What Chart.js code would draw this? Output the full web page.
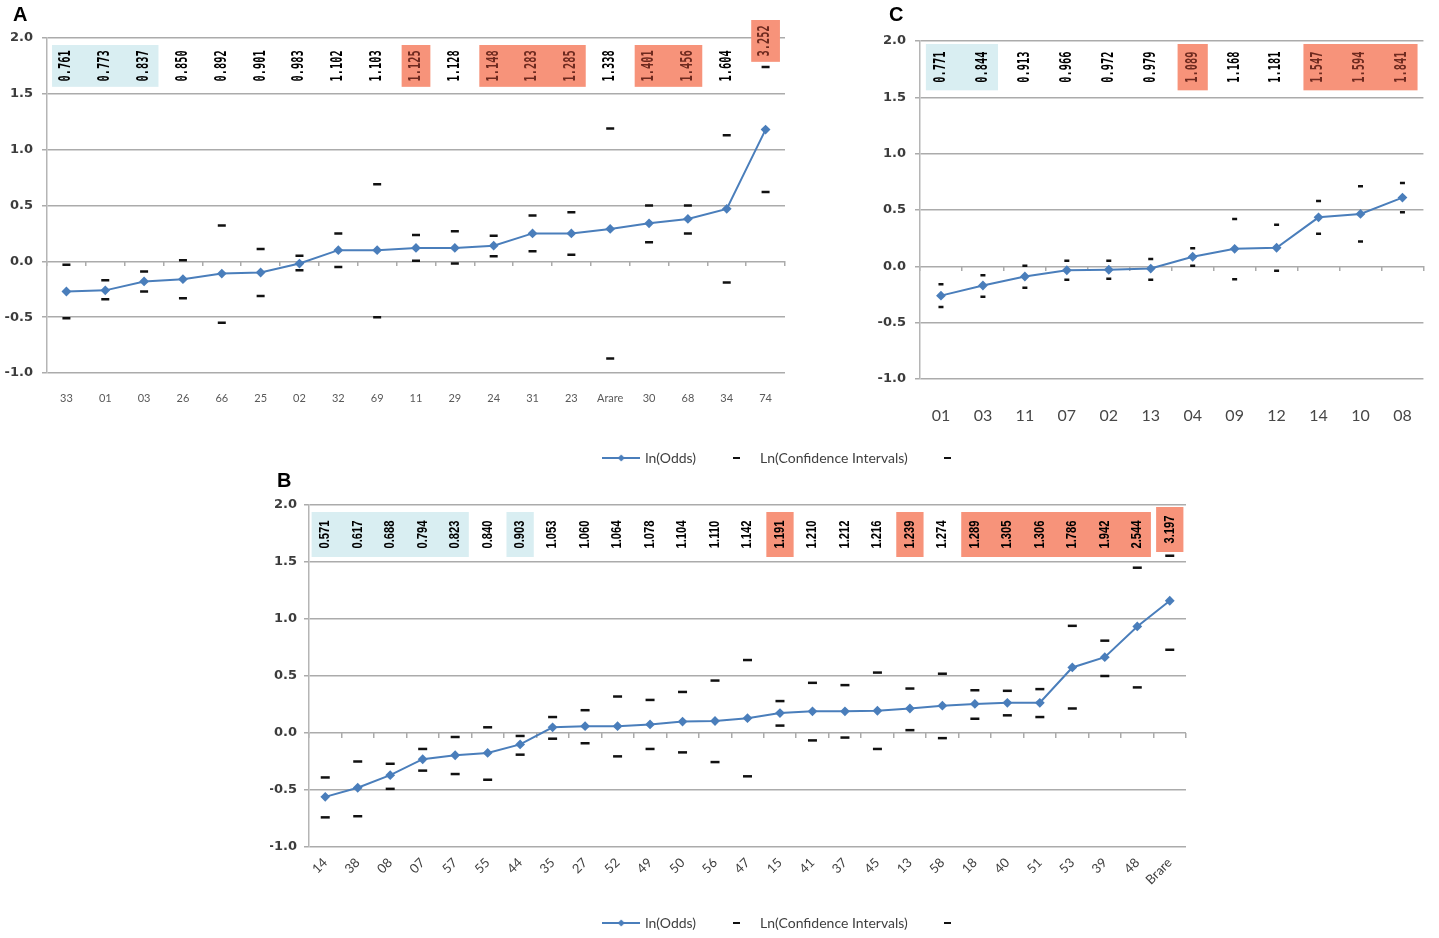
<!DOCTYPE html>
<html>
<head>
<meta charset="utf-8">
<title>ln(Odds) by category</title>
<script src="https://cdn.jsdelivr.net/npm/chart.js@4"></script>
<style>
  body { margin: 0; background: #fff; }
  #page { position: relative; width: 1439px; height: 938px; overflow: hidden; }
  canvas { position: absolute; }
</style>
</head>
<body>
<div id="page">
  <canvas id="chartA" width="800" height="420" style="left:0px;top:0px"></canvas>
  <canvas id="chartC" width="579" height="440" style="left:860px;top:0px"></canvas>
  <canvas id="chartB" width="1014" height="470" style="left:270px;top:440px"></canvas>
  <canvas id="legendTop" width="776" height="120" style="left:400px;top:428px"></canvas>
  <canvas id="legendBottom" width="776" height="120" style="left:400px;top:893px"></canvas>
</div>
<script>
// Panel A
const catsA = ['33', '01', '03', '26', '66', '25', '02', '32', '69', '11', '29', '24', '31', '23', 'Arare', '30', '68', '34', '74'];
const lnA = [-0.27, -0.26, -0.18, -0.16, -0.11, -0.10, -0.02, 0.10, 0.10, 0.12, 0.12, 0.14, 0.25, 0.25, 0.29, 0.34, 0.38, 0.47, 1.18];
const upperA = [-0.03, -0.17, -0.09, 0.01, 0.32, 0.11, 0.05, 0.25, 0.69, 0.235, 0.27, 0.23, 0.41, 0.44, 1.19, 0.50, 0.50, 1.13, 1.74];
const lowerA = [-0.51, -0.34, -0.27, -0.33, -0.55, -0.31, -0.08, -0.05, -0.50, 0.005, -0.02, 0.045, 0.09, 0.06, -0.87, 0.17, 0.25, -0.19, 0.62];
const oddsA = ['0.761', '0.773', '0.837', '0.850', '0.892', '0.901', '0.983', '1.102', '1.103', '1.125', '1.128', '1.148', '1.283', '1.285', '1.338', '1.401', '1.456', '1.604', '3.252'];
const blueA = [['33', '03']];
const redA = [['11', '11'], ['24', '23'], ['30', '68'], ['74', '74']];

// Panel B
const catsB = ['14', '38', '08', '07', '57', '55', '44', '35', '27', '52', '49', '50', '56', '47', '15', '41', '37', '45', '13', '58', '18', '40', '51', '53', '39', '48', 'Brare'];
const lnB = [-0.56, -0.48, -0.37, -0.23, -0.195, -0.175, -0.10, 0.05, 0.06, 0.06, 0.075, 0.10, 0.105, 0.13, 0.175, 0.19, 0.19, 0.195, 0.215, 0.24, 0.255, 0.265, 0.265, 0.575, 0.665, 0.935, 1.16];
const upperB = [-0.39, -0.25, -0.27, -0.14, -0.035, 0.05, -0.026, 0.14, 0.20, 0.32, 0.29, 0.36, 0.46, 0.64, 0.28, 0.44, 0.42, 0.53, 0.39, 0.52, 0.375, 0.37, 0.385, 0.94, 0.81, 1.45, 1.555];
const lowerB = [-0.74, -0.73, -0.49, -0.33, -0.36, -0.41, -0.19, -0.05, -0.09, -0.205, -0.14, -0.17, -0.255, -0.38, 0.065, -0.065, -0.04, -0.14, 0.025, -0.045, 0.125, 0.155, 0.14, 0.215, 0.50, 0.40, 0.73];
const oddsB = ['0.571', '0.617', '0.688', '0.794', '0.823', '0.840', '0.903', '1.053', '1.060', '1.064', '1.078', '1.104', '1.110', '1.142', '1.191', '1.210', '1.212', '1.216', '1.239', '1.274', '1.289', '1.305', '1.306', '1.786', '1.942', '2.544', '3.197'];
const blueB = [['14', '57'], ['44', '44']];
const redB = [['15', '15'], ['13', '13'], ['18', '48'], ['Brare', 'Brare']];

// Panel C
const catsC = ['01', '03', '11', '07', '02', '13', '04', '09', '12', '14', '10', '08'];
const lnC = [-0.26, -0.17, -0.09, -0.035, -0.03, -0.02, 0.085, 0.155, 0.165, 0.435, 0.465, 0.61];
const upperC = [-0.16, -0.08, 0.005, 0.05, 0.05, 0.065, 0.16, 0.42, 0.37, 0.58, 0.71, 0.74];
const lowerC = [-0.36, -0.27, -0.19, -0.12, -0.11, -0.12, 0.005, -0.115, -0.04, 0.29, 0.22, 0.48];
const oddsC = ['0.771', '0.844', '0.913', '0.966', '0.972', '0.979', '1.089', '1.168', '1.181', '1.547', '1.594', '1.841'];
const blueC = [['01', '03']];
const redC = [['04', '04'], ['14', '08']];

const yTicks = [-1.0, -0.5, 0.0, 0.5, 1.0, 1.5, 2.0];

const BLUE = '#4a7ebb';
const GRID = '#ababab';

// band of odds values with coloured boxes, drawn between the 2.0 and 1.5 lines
const oddsBand = {
  id: 'oddsBand',
  beforeDatasetsDraw(chart, args, o) {
    const x = chart.scales.x, y = chart.scales.y, ctx = chart.ctx;
    const cats = chart.data.labels;
    const step = x.getPixelForValue(1) - x.getPixelForValue(0);
    const boxTop = y.getPixelForValue(2.0) + o.insetTop;
    const boxBottom = y.getPixelForValue(1.5) - o.insetBottom;
    const lift = i => o.raised[cats[i]] || 0;
    const redIdx = new Set();

    ctx.save();
    const boxes = (groups, fill, mark) => groups.forEach(([a, b]) => {
      const i0 = cats.indexOf(a), i1 = cats.indexOf(b);
      const l = x.getPixelForValue(i0) - step * o.margin;
      const r = x.getPixelForValue(i1) + step * o.margin;
      ctx.fillStyle = fill;
      ctx.fillRect(l, boxTop - lift(i0), r - l, boxBottom - boxTop);
      if (mark) for (let i = i0; i <= i1; i++) redIdx.add(i);
    });
    boxes(o.blue, '#d9eef2', false);
    boxes(o.red, '#f7937a', true);

    ctx.font = o.font;
    ctx.textAlign = 'center';
    ctx.textBaseline = 'middle';
    o.labels.forEach((t, i) => {
      ctx.save();
      ctx.translate(x.getPixelForValue(i), (boxTop + boxBottom) / 2 - lift(i));
      ctx.rotate(-Math.PI / 2);
      ctx.scale(o.stretch, 1);
      ctx.fillStyle = redIdx.has(i) ? o.redColor : '#000';
      ctx.fillText(t, 0, 0);
      ctx.restore();
    });

    ctx.font = 'bold 20px "Liberation Sans", Arial, sans-serif';
    ctx.fillStyle = '#000';
    ctx.textAlign = 'left';
    ctx.textBaseline = 'alphabetic';
    ctx.fillText(o.panel, o.panelX, o.panelY);
    ctx.restore();
  }
};

function panel(id, p) {
  return new Chart(document.getElementById(id), {
    type: 'line',
    data: {
      labels: p.cats,
      datasets: [
        {
          label: 'ln(Odds)', data: p.ln, borderColor: BLUE, backgroundColor: BLUE, borderWidth: 2,
          pointStyle: 'rectRot', pointRadius: 3.5, pointBackgroundColor: BLUE, pointBorderColor: BLUE, tension: 0
        },
        {
          label: 'Ln(Confidence Intervals)', data: p.upper, showLine: false, pointStyle: 'line',
          pointRadius: p.dash, pointBorderWidth: 2.5, pointBorderColor: '#111', borderColor: '#111'
        },
        {
          label: '', data: p.lower, showLine: false, pointStyle: 'line',
          pointRadius: p.dash, pointBorderWidth: 2.5, pointBorderColor: '#111', borderColor: '#111'
        }
      ]
    },
    options: {
      responsive: false,
      animation: false,
      events: [],
      layout: { padding: { top: p.padTop, right: p.padRight, left: 0, bottom: 0 } },
      scales: {
        x: {
          type: 'category', offset: true, position: 'bottom',
          grid: { display: false, drawTicks: false }, border: { display: false },
          ticks: {
            autoSkip: false, minRotation: p.rot, maxRotation: p.rot, padding: p.xPad,
            color: p.xColor, font: { family: 'Lato', size: p.xSize }
          },
          afterFit: s => { s.height = p.xHeight; }
        },
        x0: {
          type: 'category', offset: true, position: { y: 0 },
          grid: { display: true, offset: true, drawOnChartArea: false, drawTicks: true, tickLength: 5, color: GRID, lineWidth: 1.5 },
          border: { display: false },
          ticks: { display: false }
        },
        y: {
          type: 'linear', min: -1, max: 2,
          afterBuildTicks: s => { s.ticks = yTicks.map(v => ({ value: v })); },
          grid: { color: GRID, lineWidth: 1.5, tickLength: 5 },
          border: { color: '#b5b5b5', width: 1.5 },
          ticks: {
            padding: p.yPad, color: '#3c3c3c',
            font: { family: 'DejaVu Sans', weight: 'bold', size: 13 },
            callback: v => v.toFixed(1)
          },
          afterFit: s => { s.width = p.yWidth; }
        }
      },
      plugins: {
        legend: { display: false },
        tooltip: { enabled: false },
        oddsBand: p.band
      }
    },
    plugins: [oddsBand]
  });
}

panel('chartA', {
  cats: catsA, ln: lnA, upper: upperA, lower: lowerA, dash: 4,
  padTop: 38, padRight: 15, yWidth: 47, xHeight: 47, yPad: 9,
  rot: 0, xPad: 19, xSize: 11, xColor: '#595959',
  band: {
    labels: oddsA, blue: blueA, red: redA, raised: { '74': 25 },
    insetTop: 7, insetBottom: 7, margin: 0.37,
    font: 'bold 15px "DejaVu Sans Mono", monospace', stretch: 0.69, redColor: '#6e2a1f',
    panel: 'A', panelX: 13, panelY: 21
  }
});

panel('chartC', {
  cats: catsC, ln: lnC, upper: upperC, lower: lowerC, dash: 2.5,
  padTop: 41, padRight: 4, yWidth: 60, xHeight: 61, yPad: 9,
  rot: 0, xPad: 27, xSize: 16, xColor: '#474747',
  band: {
    labels: oddsC, blue: blueC, red: redC, raised: {},
    insetTop: 3, insetBottom: 7, margin: 0.36,
    font: 'bold 15px "DejaVu Sans Mono", monospace', stretch: 0.69, redColor: '#6e2a1f',
    panel: 'C', panelX: 29, panelY: 21
  }
});

panel('chartB', {
  cats: catsB, ln: lnB, upper: upperB, lower: lowerB, dash: 4.5,
  padTop: 65, padRight: 98, yWidth: 39, xHeight: 63, yPad: 7,
  rot: 45, xPad: 8, xSize: 13, xColor: '#404040',
  band: {
    labels: oddsB, blue: blueB, red: redB, raised: { 'Brare': 5 },
    insetTop: 7, insetBottom: 5, margin: 0.42,
    font: 'bold 14px "Liberation Sans", Arial, sans-serif', stretch: 0.8, redColor: '#000',
    panel: 'B', panelX: 7, panelY: 47
  }
});

// legend symbols
function lineSymbol() {
  const c = document.createElement('canvas');
  c.width = 38; c.height = 10;
  const g = c.getContext('2d');
  g.strokeStyle = BLUE; g.lineWidth = 2;
  g.beginPath(); g.moveTo(0, 5); g.lineTo(38, 5); g.stroke();
  g.fillStyle = BLUE;
  g.beginPath(); g.moveTo(19, 1.5); g.lineTo(22.5, 5); g.lineTo(19, 8.5); g.lineTo(15.5, 5); g.closePath(); g.fill();
  return c;
}
function dashSymbol() {
  const c = document.createElement('canvas');
  c.width = 7; c.height = 2;
  const g = c.getContext('2d');
  g.fillStyle = '#111';
  g.fillRect(0, 0, 7, 2);
  return c;
}

function legendChart(id) {
  return new Chart(document.getElementById(id), {
    type: 'line',
    data: {
      labels: [],
      datasets: [
        { label: 'ln(Odds)', data: [], borderColor: BLUE, pointStyle: lineSymbol() },
        { label: 'Ln(Confidence Intervals)', data: [], borderColor: '#111', pointStyle: dashSymbol() },
        { label: '', data: [], borderColor: '#111', pointStyle: dashSymbol() }
      ]
    },
    options: {
      responsive: false,
      animation: false,
      events: [],
      layout: { padding: 0 },
      scales: { x: { display: false }, y: { display: false } },
      plugins: {
        tooltip: { enabled: false },
        legend: {
          position: 'top',
          labels: {
            usePointStyle: true, pointStyleWidth: 34, padding: 23,
            color: '#404040', font: { family: 'Lato', size: 14 }
          }
        }
      }
    }
  });
}

legendChart('legendTop');
legendChart('legendBottom');
</script>
</body>
</html>
